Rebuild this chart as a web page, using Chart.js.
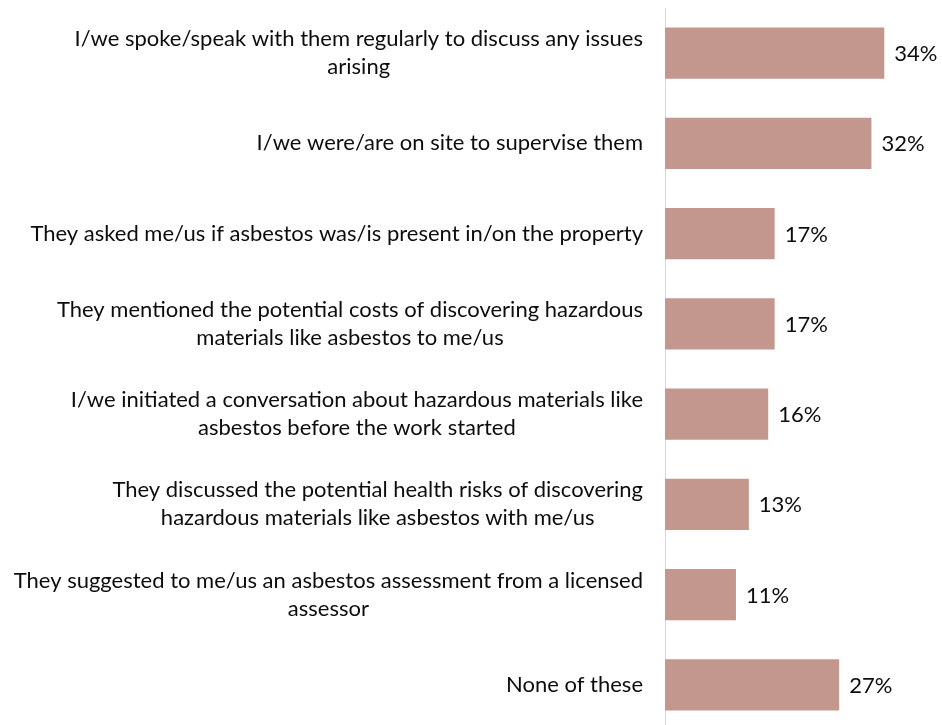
<!DOCTYPE html>
<html>
<head>
<meta charset="utf-8">
<script src="https://cdn.jsdelivr.net/npm/chart.js@4/dist/chart.umd.min.js"></script>
<style>
    html, body {
        margin: 0;
        padding: 0;
        background: #fff;
        overflow: hidden;
    }
    #wrap {
        width: 942px;
        height: 725px;
        overflow: hidden;
    }
</style>
</head>
<body>
<div id="wrap">
    <canvas id="barChart" width="942" height="730"></canvas>
</div>

<script>
// kategori (tiap baris label = satu elemen)
const categories = [
    ['I/we spoke/speak with them regularly to discuss any issues', 'arising'],
    ['I/we were/are on site to supervise them'],
    ['They asked me/us if asbestos was/is present in/on the property'],
    ['They mentioned the potential costs of discovering hazardous', 'materials like asbestos to me/us'],
    ['I/we initiated a conversation about hazardous materials like', 'asbestos before the work started'],
    ['They discussed the potential health risks of discovering', 'hazardous materials like asbestos with me/us'],
    ['They suggested to me/us an asbestos assessment from a licensed', 'assessor'],
    ['None of these']
];

const percentValues = [34, 32, 17, 17, 16, 13, 11, 27];

const FONT = '22px Lato';
const TEXT_COLOR = '#0d0d0d';

// label kategori: blok rata kanan, baris di tengah blok
const categoryLabels = {
    id: 'categoryLabels',
    afterDraw(chart) {
        const ctx = chart.ctx;
        const yScale = chart.scales.y;
        const rightEdge = yScale.right - 22;
        const lineHeight = 28;

        ctx.save();
        ctx.font = FONT;
        ctx.fillStyle = TEXT_COLOR;
        ctx.textAlign = 'center';
        ctx.textBaseline = 'middle';

        categories.forEach((lines, i) => {
            const y = yScale.getPixelForValue(i);
            const widest = Math.max(...lines.map(l => ctx.measureText(l).width));
            const cx = rightEdge - widest / 2;
            const top = y - (lines.length - 1) * lineHeight / 2;

            lines.forEach((line, j) => {
                ctx.fillText(line, cx, top + j * lineHeight);
            });
        });
        ctx.restore();
    }
};

// angka persen di ujung batang
const valueLabels = {
    id: 'valueLabels',
    afterDatasetsDraw(chart) {
        const ctx = chart.ctx;
        const meta = chart.getDatasetMeta(0);

        ctx.save();
        ctx.font = FONT;
        ctx.fillStyle = TEXT_COLOR;
        ctx.textAlign = 'left';
        ctx.textBaseline = 'middle';

        meta.data.forEach((bar, i) => {
            ctx.fillText(percentValues[i] + '%', bar.x + 10, bar.y + 1);
        });
        ctx.restore();
    }
};

new Chart(document.getElementById('barChart'), {

    type: 'bar',

    data: {
        labels: categories.map(c => c.join(' ')),

        datasets: [{
            data: percentValues,
            backgroundColor: '#C4978E',
            borderWidth: 0,
            categoryPercentage: 1,
            barPercentage: 0.567
        }]
    },

    options: {
        indexAxis: 'y',
        responsive: false,
        animation: false,

        layout: {
            padding: {
                top: 8,
                right: 19,
                bottom: 0,
                left: 0
            }
        },

        plugins: {
            legend: { display: false },
            tooltip: { enabled: false }
        },

        scales: {
            x: {
                display: false,
                min: 0,
                max: 40
            },

            y: {
                grid: { display: false },
                ticks: { display: false },
                border: {
                    display: true,
                    color: '#d9d9d9',
                    width: 1
                },
                afterFit(scale) {
                    scale.width = 665;
                }
            }
        }
    },

    plugins: [categoryLabels, valueLabels]
});
</script>
</body>
</html>
